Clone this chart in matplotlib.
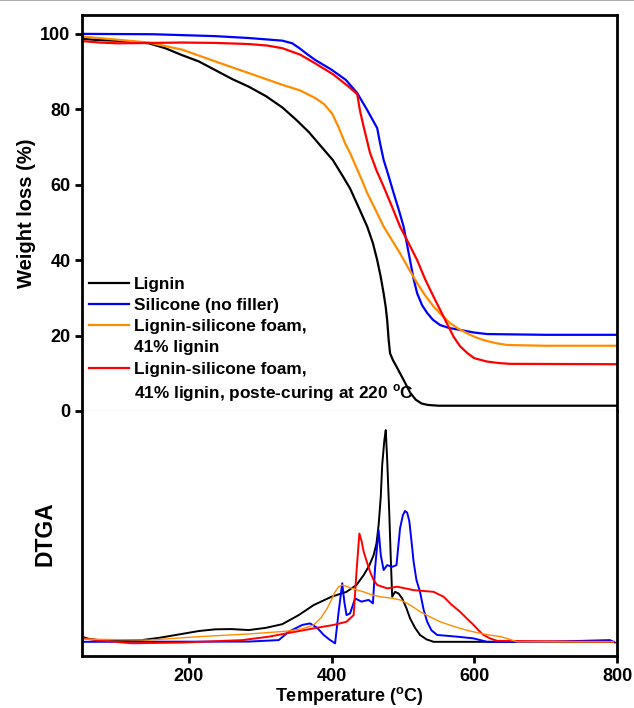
import matplotlib
matplotlib.use("Agg")
import matplotlib.pyplot as plt
from matplotlib.lines import Line2D

plt.rcParams["font.family"] = ["Liberation Sans", "DejaVu Sans"]
plt.rcParams["font.weight"] = "bold"
plt.rcParams["mathtext.fontset"] = "custom"
plt.rcParams["mathtext.bf"] = "Liberation Sans:bold"
plt.rcParams["mathtext.rm"] = "Liberation Sans:bold"

# TGA curves (weight %, vs temperature in C)
lignin_t = [50, 70, 97, 120, 144, 167, 190, 214, 237, 261, 284, 308, 331, 350, 368, 387, 402, 415, 426, 438, 450, 458, 464,
            469, 473, 476, 478, 480, 482, 486, 491, 496, 503, 510, 518, 526, 535, 550, 800]
lignin_w = [98.7, 98.4, 98.2, 97.9, 97.5, 96.2, 94.4, 92.7, 90.4, 88.0, 86.0, 83.5, 80.5, 77.3, 74.0, 69.8, 66.5, 62.5, 59.0,
            54.0, 48.9, 44.5, 40.0, 35.5, 31.2, 27.5, 24.0, 19.0, 15.3, 13.5, 11.8, 10.0, 7.5, 4.9, 3.0, 2.0, 1.6, 1.4, 1.4]

silicone_t = [50, 150, 237, 284, 331, 345, 355, 366, 377, 400, 420, 436, 450, 464, 468, 473, 480, 487, 494, 501, 510, 515,
              520, 527, 534, 542, 552, 565, 580, 600, 618, 700, 800]
silicone_w = [100, 99.9, 99.4, 98.9, 98.2, 97.5, 96.2, 94.6, 93.1, 90.5, 87.8, 84.3, 79.8, 75.0, 71.0, 66.6, 62.3, 57.8,
              53.5, 48.9, 40.0, 35.0, 31.2, 28.0, 26.0, 24.2, 22.8, 22.0, 21.5, 20.8, 20.4, 20.2, 20.2]

foam_t = [50, 97, 144, 191, 237, 284, 331, 356, 377, 390, 401, 410, 419, 426, 435, 443, 450, 462, 473, 485, 496, 508, 520,
          531, 543, 555, 566, 578, 590, 601, 613, 630, 646, 700, 800]
foam_w = [99.3, 98.5, 97.7, 95.8, 92.7, 89.6, 86.5, 85.0, 83.0, 81.3, 78.8, 75.2, 71.0, 68.4, 64.5, 61.0, 57.8, 53.2, 48.9,
          45.2, 41.8, 37.8, 33.9, 30.7, 27.7, 25.3, 23.3, 21.8, 20.6, 19.6, 18.8, 18.0, 17.5, 17.3, 17.3]

cured_t = [50, 75, 100, 150, 190, 237, 284, 310, 331, 356, 377, 402, 424, 436, 440, 445, 454, 463, 473, 484, 496, 508, 520,
           531, 543, 557, 571, 580, 590, 600, 618, 635, 650, 800]
cured_w = [98.1, 97.7, 97.5, 97.6, 97.7, 97.6, 97.3, 96.9, 96.2, 94.5, 92.2, 89.3, 86.0, 84.0, 79.5, 75.4, 68.4, 63.8, 59.5,
           54.5, 48.9, 44.5, 40.0, 35.0, 30.3, 25.0, 19.7, 17.2, 15.4, 14.0, 13.1, 12.7, 12.5, 12.4]

# DTGA curves (arbitrary units)
lignin_dt = [50, 60, 74, 134, 160, 190, 214, 237, 260, 284, 308, 331, 354, 375, 400, 421, 435, 445, 453, 459, 463, 466, 469,
             471, 474, 476, 478, 481, 483, 485, 489, 494, 499, 505, 510, 517, 524, 533, 543, 600, 700, 795]
lignin_d = [7.9, 7.0, 6.5, 6.5, 7.5, 9.0, 10.2, 10.9, 11.0, 10.6, 11.5, 13.0, 16.7, 20.8, 24.2, 26.2, 29.0, 33.0, 37.0, 41.2,
            46.0, 53.5, 65.0, 78.0, 88.0, 92.2, 80.0, 57.6, 40.0, 24.2, 26.2, 25.5, 23.5, 19.5, 15.4, 11.5, 8.6, 6.8, 5.8, 5.8,
            5.8, 5.8]

silicone_dt = [50, 284, 326, 340, 359, 370, 380, 389, 398, 405, 410, 415, 418, 421, 426, 433, 442, 452, 458, 461, 466, 469,
               473, 478, 485, 491, 496, 500, 503, 506, 509, 512, 515, 519, 524, 529, 534, 540, 548, 576, 599, 618, 700, 790, 797]
silicone_d = [5.8, 5.9, 6.5, 9.9, 12.7, 13.3, 11.5, 8.6, 6.5, 5.2, 18.1, 29.7, 22.0, 16.7, 17.4, 23.5, 22.2, 22.9, 21.5, 35.8,
              51.4, 41.2, 35.1, 37.1, 36.4, 37.1, 52.1, 57.5, 59.2, 58.5, 55.0, 47.0, 38.5, 31.0, 26.2, 19.0, 14.0, 10.5, 8.6,
              7.9, 7.2, 5.8, 5.8, 6.5, 5.5]

foam_dt = [50, 144, 214, 284, 340, 360, 375, 385, 394, 400, 405, 410, 415, 425, 435, 445, 456, 468, 487, 497, 506, 515, 524,
           538, 552, 566, 580, 594, 608, 623, 637, 650, 660, 700, 795]
foam_d = [6.9, 6.5, 7.9, 9.0, 10.2, 11.2, 12.7, 15.5, 19.5, 23.0, 26.2, 28.3, 29.0, 28.0, 27.0, 26.2, 25.0, 24.2, 23.5, 22.8,
          21.5, 19.9, 18.1, 16.0, 14.0, 12.6, 11.3, 10.2, 9.3, 8.5, 7.9, 6.8, 5.8, 5.8, 5.8]

cured_dt = [50, 97, 120, 191, 275, 312, 349, 375, 403, 421, 431, 435, 439, 442, 445, 450, 454, 459, 464, 478, 492, 515, 543,
            557, 568, 580, 590, 599, 606, 613, 622, 632, 700, 795]
cured_d = [7.2, 5.8, 5.2, 5.5, 6.5, 7.9, 9.9, 11.3, 12.7, 14.0, 16.7, 34.4, 50.0, 47.0, 42.6, 38.0, 34.4, 31.0, 29.0, 27.6,
           28.3, 26.9, 26.2, 24.2, 21.0, 18.1, 15.2, 12.7, 10.5, 8.6, 7.2, 6.2, 6.0, 5.8]

labels = ["Lignin", "Silicone (no filler)", "Lignin-silicone foam,", "41% lignin",
          "Lignin-silicone foam,", r"41% lignin, poste-curing at 220 $^{\mathbf{o}}$C"]
colors = {"lignin": "black", "silicone": "#0000ff", "foam": "#ff8c00", "cured": "#ff0000"}

fig = plt.figure(figsize=(6.34, 7.08), dpi=100)
ax1 = fig.add_axes([0.1289, 0.4195, 0.8443, 0.5593])
ax2 = fig.add_axes([0.1289, 0.0734, 0.8443, 0.3461])

ax1.plot(lignin_t, lignin_w, color=colors["lignin"], lw=1.6)
ax1.plot(silicone_t, silicone_w, color=colors["silicone"], lw=1.6)
ax1.plot(foam_t, foam_w, color=colors["foam"], lw=1.6)
ax1.plot(cured_t, cured_w, color=colors["cured"], lw=1.6)

ax2.plot(lignin_dt, lignin_d, color=colors["lignin"], lw=1.4)
ax2.plot(silicone_dt, silicone_d, color=colors["silicone"], lw=1.4)
ax2.plot(cured_dt, cured_d, color=colors["cured"], lw=1.4)
ax2.plot(foam_dt, foam_d, color=colors["foam"], lw=1.0)

for ax in (ax1, ax2):
    ax.set_xlim(50, 800)
    for s in ax.spines.values():
        s.set_linewidth(2)
ax1.set_ylim(0, 105)
ax2.set_ylim(0, 100)

ax1.spines["bottom"].set_color("#808080")
ax1.spines["bottom"].set_linewidth(0.8)
ax2.spines["top"].set_visible(False)

ax1.set_xticks([])
ax1.set_yticks([0, 20, 40, 60, 80, 100])
ax1.tick_params(axis="y", direction="out", length=5, width=2, labelsize=13, pad=3)
ax2.set_yticks([])
ax2.set_xticks([200, 400, 600, 800])
ax2.tick_params(axis="x", direction="out", length=5, width=2, labelsize=13, pad=3.5)

ax1.set_ylabel("Weight loss (%)", fontsize=14.5, fontweight="bold")
ax1.yaxis.set_label_coords(-0.085, 0.5)
ax2.set_ylabel("DTGA", fontsize=16.5, fontweight="bold")
ax2.yaxis.set_label_coords(-0.048, 0.5)
ax2.set_xlabel(r"Temperature ($^{\mathbf{o}}$C)", fontsize=13, fontweight="bold", labelpad=0)

blank = Line2D([], [], linestyle="none")
handles = [Line2D([], [], color=colors["lignin"], lw=1.6),
           Line2D([], [], color=colors["silicone"], lw=1.6),
           Line2D([], [], color=colors["foam"], lw=1.6),
           blank,
           Line2D([], [], color=colors["cured"], lw=1.6),
           blank]
ax1.legend(handles, labels, loc="upper left", bbox_to_anchor=(0.0136, 0.338), frameon=False,
           prop={"size": 12.4, "weight": "bold"}, handlelength=2.3, handletextpad=0.3,
           borderpad=0, borderaxespad=0, labelspacing=0.35)

fig.add_artist(Line2D([0, 1], [0.9993, 0.9993], color="#a0a0a0", lw=1.2))

fig.savefig("out.png", dpi=100)
